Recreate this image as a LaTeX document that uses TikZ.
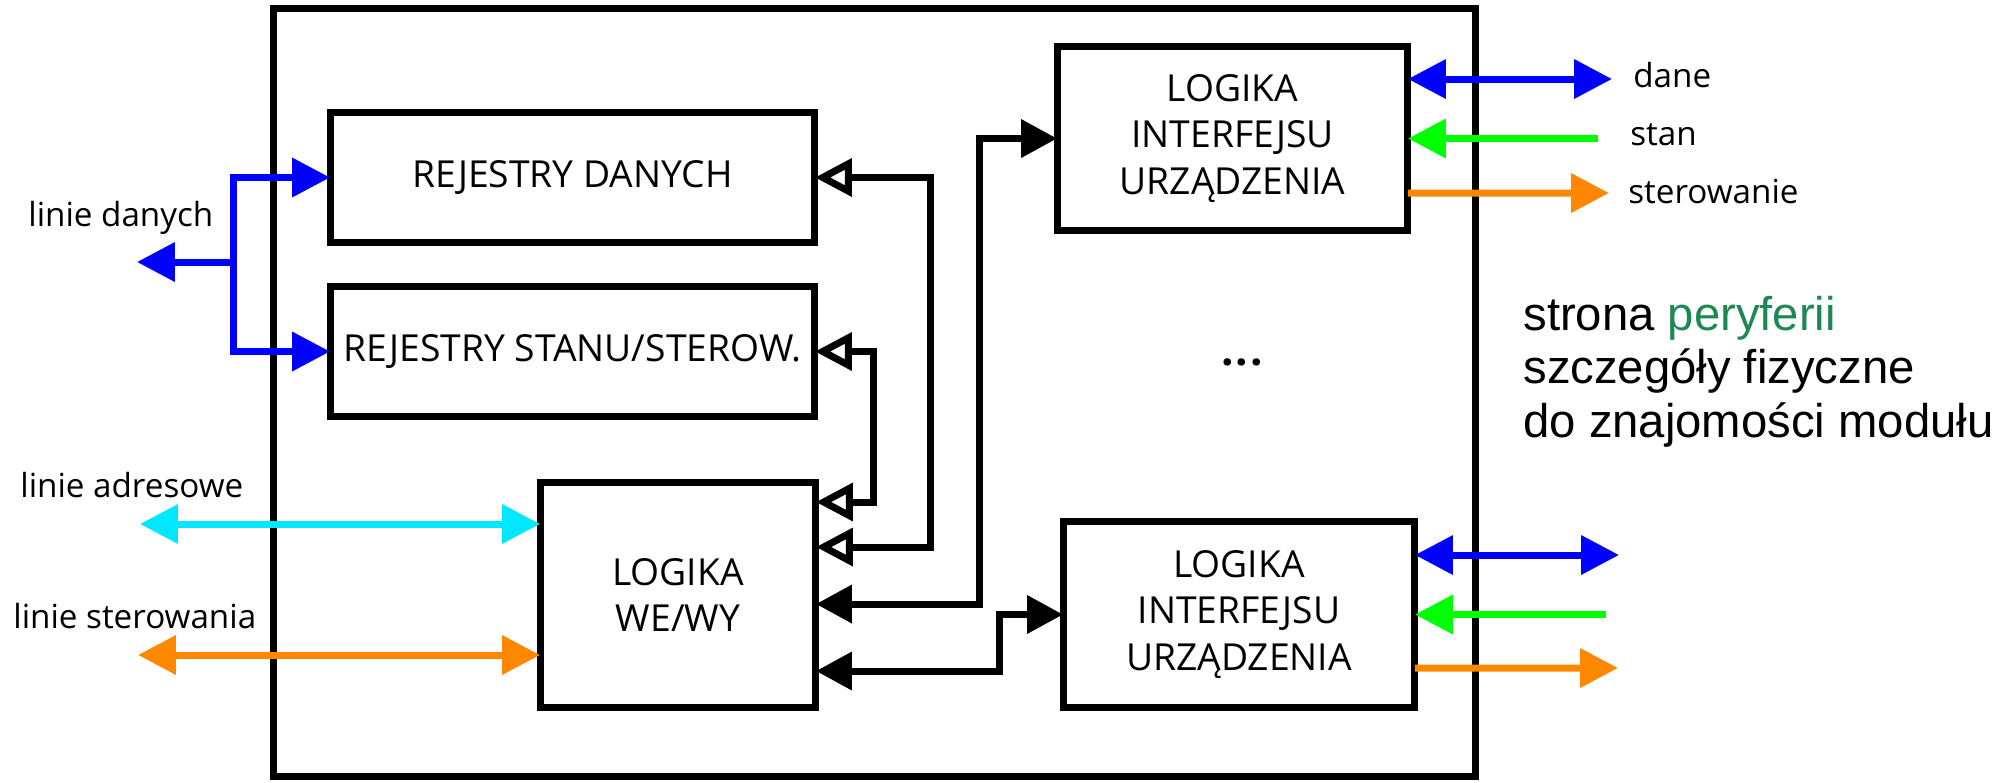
\documentclass[tikz,border=0pt]{standalone}
\usepackage{fontspec}
\setmainfont{Open Sans}
\newfontfamily\notefont{Liberation Sans}
\usetikzlibrary{arrows.meta,calc}

\definecolor{busblue}{RGB}{0,0,255}
\definecolor{buscyan}{RGB}{0,232,255}
\definecolor{busgreen}{RGB}{0,255,0}
\definecolor{busorange}{RGB}{255,136,0}
\definecolor{notegreen}{RGB}{28,136,84}

\newcommand{\boxfont}{\fontsize{21.2}{26.6}\selectfont}
\newcommand{\labelfont}{\fontsize{18.9}{22}\selectfont}
\newcommand{\notesize}{\fontsize{26.9}{30.3}\selectfont}

\tikzset{
  unitbox/.style={draw, line width=0.14cm, inner sep=0pt, outer sep=0pt,
                  align=center, font=\boxfont},
  wire/.style={line width=0.14cm},
  sidelabel/.style={anchor=base west, inner sep=0pt, font=\labelfont},
  notetext/.style={anchor=base west, inner sep=0pt, font=\notefont\notesize},
  ctip/.tip={Triangle[length=0.76cm,width=0.76cm]},
  ftip/.tip={Triangle[length=0.72cm,width=0.74cm]},
  otip/.tip={Triangle[open,length=0.74cm,width=0.74cm]},
}

\begin{document}
\begin{tikzpicture}[x=0.02cm,y=-0.02cm]
  \useasboundingbox (0,0) rectangle (1993,782);
  \clip (0,0) rectangle (1993,782);

  % module frame
  \node[draw, line width=0.14cm, inner sep=0pt, outer sep=0pt,
        minimum width=24.06cm, minimum height=15.38cm] (module) at (874.5,392.5) {};

  % functional blocks
  \node[unitbox, minimum width=9.7cm, minimum height=2.62cm] (rd) at (572.5,177.5) {REJESTRY DANYCH};
  \node[unitbox, minimum width=9.7cm, minimum height=2.62cm] (rs) at (572.5,351.5) {REJESTRY STANU/STEROW.};
  \node[unitbox, minimum width=5.52cm, minimum height=4.52cm] (we) at (678,595) {LOGIKA\\WE/WY};
  \node[unitbox, minimum width=7.02cm, minimum height=3.7cm] (li1) at (1232.5,138.5) {LOGIKA\\INTERFEJSU\\URZĄDZENIA};
  \node[unitbox, minimum width=7.04cm, minimum height=3.74cm] (li2) at (1239,614.5) {LOGIKA\\INTERFEJSU\\URZĄDZENIA};
  \node[inner sep=0pt, font=\fontsize{25}{30}\selectfont\bfseries] (dots) at (1242,362) {.\kern1pt.\kern1pt.};

  % internal connections
  \draw[wire, otip-otip] (rd.east) -- ++(116,0) |- ($(we.north east)+(0,65)$);
  \draw[wire, otip-otip] (rs.east) -- ++(59,0) |- ($(we.north east)+(0,20)$);
  \draw[wire, ftip-ftip] ($(we.north east)+(0,122)$) -- ++(164,0) |- (li1.west);
  \draw[wire, ftip-ftip] ($(we.north east)+(0,189)$) -- ++(184,0) |- (li2.west);

  % bus lines on the left
  \coordinate (dj) at (233,262);
  \coordinate (dl) at (137,262);
  \coordinate (al) at (140,524);
  \coordinate (sl) at (138,655);
  \draw[wire, busblue, -ctip] (dj) -- (dl);
  \draw[wire, busblue, -ctip] (dj) |- (rd.west);
  \draw[wire, busblue, -ctip] (dj) |- (rs.west);
  \draw[wire, buscyan, ctip-ctip] (al) -- (we.west |- al);
  \draw[wire, busorange, ctip-ctip] (sl) -- (we.west |- sl);

  \node[sidelabel] (tld) at (28,226) {linie danych};
  \node[sidelabel] (tla) at (20,497) {linie adresowe};
  \node[sidelabel] (tls) at (13,628) {linie sterowania};

  % device side lines
  \coordinate (d1) at (1612,79);
  \coordinate (s1) at (1598,138.5);
  \coordinate (o1) at (1609,193);
  \draw[wire, busblue, ctip-ctip] ($(li1.east)+(0,-59.5)$) -- (d1);
  \draw[wire, busgreen, -ctip] (s1) -- (li1.east);
  \draw[wire, busorange, -ctip] ($(li1.east)+(0,54.5)$) -- (o1);

  \coordinate (d2) at (1619,555);
  \coordinate (s2) at (1606,614.5);
  \coordinate (o2) at (1618,668);
  \draw[wire, busblue, ctip-ctip] ($(li2.east)+(0,-59.5)$) -- (d2);
  \draw[wire, busgreen, -ctip] (s2) -- (li2.east);
  \draw[wire, busorange, -ctip] ($(li2.east)+(0,53.5)$) -- (o2);

  \node[sidelabel] (tdane) at (1633,87) {dane};
  \node[sidelabel] (tstan) at (1630,145) {stan};
  \node[sidelabel] (tster) at (1628,203) {sterowanie};

  % side note
  \node[notetext] (n1) at (1523,330) {strona \textcolor{notegreen}{peryferii}};
  \node[notetext] (n2) at (1523,383) {szczegóły fizyczne};
  \node[notetext] (n3) at (1523,437) {do znajomości modułu};
\end{tikzpicture}
\end{document}
